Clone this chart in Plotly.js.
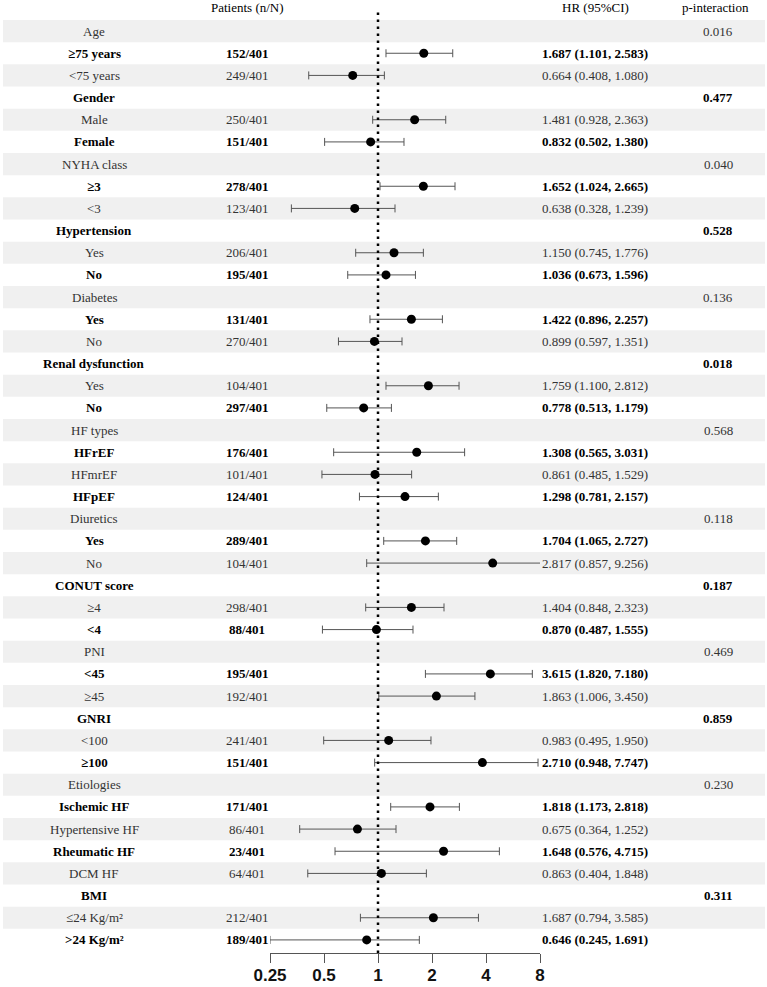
<!DOCTYPE html>
<html>
<head>
<meta charset="utf-8">
<script src="https://cdn.plot.ly/plotly-3.0.1.min.js"></script>
<style>html,body{margin:0;padding:0;background:#fff;}#chart{width:767px;height:987px;}</style>
</head>
<body>
<div id="chart"></div>
<script>
// ---------- data ----------
const rowLabels = ['Age','≥75 years','<75 years','Gender','Male','Female','NYHA class','≥3','<3',
  'Hypertension','Yes','No','Diabetes','Yes','No','Renal dysfunction','Yes','No',
  'HF types','HFrEF','HFmrEF','HFpEF','Diuretics','Yes','No','CONUT score','≥4','<4',
  'PNI','<45','≥45','GNRI','<100','≥100','Etiologies','Ischemic HF','Hypertensive HF',
  'Rheumatic HF','DCM HF','BMI','≤24 Kg/m²','>24 Kg/m²'];
const patients = ['','152/401','249/401','','250/401','151/401','','278/401','123/401',
  '','206/401','195/401','','131/401','270/401','','104/401','297/401',
  '','176/401','101/401','124/401','','289/401','104/401','','298/401','88/401',
  '','195/401','192/401','','241/401','151/401','','171/401','86/401',
  '23/401','64/401','','212/401','189/401'];
const hrText = ['','1.687 (1.101, 2.583)','0.664 (0.408, 1.080)','','1.481 (0.928, 2.363)','0.832 (0.502, 1.380)',
  '','1.652 (1.024, 2.665)','0.638 (0.328, 1.239)','','1.150 (0.745, 1.776)','1.036 (0.673, 1.596)',
  '','1.422 (0.896, 2.257)','0.899 (0.597, 1.351)','','1.759 (1.100, 2.812)','0.778 (0.513, 1.179)',
  '','1.308 (0.565, 3.031)','0.861 (0.485, 1.529)','1.298 (0.781, 2.157)','','1.704 (1.065, 2.727)',
  '2.817 (0.857, 9.256)','','1.404 (0.848, 2.323)','0.870 (0.487, 1.555)','','3.615 (1.820, 7.180)',
  '1.863 (1.006, 3.450)','','0.983 (0.495, 1.950)','2.710 (0.948, 7.747)','','1.818 (1.173, 2.818)',
  '0.675 (0.364, 1.252)','1.648 (0.576, 4.715)','0.863 (0.404, 1.848)','','1.687 (0.794, 3.585)',
  '0.646 (0.245, 1.691)'];
const pInteraction = ['0.016','','','0.477','','','0.040','','','0.528','','','0.136','','',
  '0.018','','','0.568','','','','0.118','','','0.187','','','0.469','','','0.859','','',
  '0.230','','','','','0.311','',''];
// plotted estimates (read from the drawn marks)
const hrPoint = [null,1.80,0.723,null,1.60,0.91,null,1.79,0.742,null,1.228,1.108,null,1.535,0.955,
  null,1.91,0.832,null,1.644,0.962,1.414,null,1.838,4.36,null,1.535,0.98,null,4.23,2.116,
  null,1.147,3.82,null,1.949,0.768,2.32,1.045,null,2.036,0.865];
const ciLow = [null,1.108,0.411,null,0.934,0.504,null,1.026,0.329,null,0.751,0.678,null,0.902,0.602,
  null,1.108,0.518,null,0.566,0.487,0.788,null,1.076,0.865,null,0.854,0.49,null,1.838,1.01,
  null,0.498,0.958,null,1.177,0.366,0.576,0.406,null,0.798,0.25];
const ciHigh = [null,2.61,1.085,null,2.385,1.396,null,2.687,1.244,null,1.79,1.617,null,2.286,1.361,
  null,2.83,1.188,null,3.04,1.54,2.17,null,2.746,9.3,null,2.333,1.567,null,7.25,3.47,
  null,1.974,7.8,null,2.843,1.26,4.75,1.861,null,3.63,1.70];
const tickVals = [0.25,0.5,1,2,4,8];
const tickText = ['0.25','0.5','1','2','4','8'];

// ---------- layout helpers ----------
const W = 767, H = 987;
const L = 270, R = 540, T = 20, B = 953;
const px = p => (p - L) / (R - L);
const py = p => (B - p) / (B - T);
const esc = s => s.replace(/</g,'&lt;').replace(/>/g,'&gt;');
const nRows = rowLabels.length;
const serif = 'Liberation Serif';

const idx = rowLabels.map((_, i) => i);
const errPlus = hrPoint.map((v, i) => v == null ? null : ciHigh[i] - v);
const errMinus = hrPoint.map((v, i) => v == null ? null : v - ciLow[i]);

const trace = {
  type: 'scatter', mode: 'markers',
  x: hrPoint, y: idx,
  marker: {color: '#000', size: 9},
  error_x: {type: 'data', symmetric: false, array: errPlus, arrayminus: errMinus,
    color: '#555', thickness: 1, width: 4},
  hoverinfo: 'skip', showlegend: false
};

const shapes = [];
for (let i = 0; i < nRows; i += 2) {
  shapes.push({type: 'rect', layer: 'below', xref: 'paper', yref: 'y',
    x0: px(3), x1: px(765), y0: i - 0.5, y1: i + 0.5,
    fillcolor: '#f0f0f0', line: {width: 0}});
}
const lo = Math.log10(0.25), hi = Math.log10(8);
const refX = (Math.log10(1) - lo) / (hi - lo);
shapes.push({type: 'line', xref: 'paper', yref: 'paper', x0: refX, x1: refX,
  y0: 0, y1: py(12), line: {color: '#000', width: 2.5, dash: '2.5px,4.5px'}});

const annotations = [];
function addText(text, xpix, row, bold) {
  if (!text) return;
  annotations.push({text: esc(text), xref: 'paper', yref: 'y', x: px(xpix), y: row,
    xanchor: 'center', yanchor: 'middle', showarrow: false,
    font: {family: serif, size: 13, color: bold ? '#000' : '#333', weight: bold ? 'bold' : 'normal'}});
}
for (let i = 0; i < nRows; i++) {
  const bold = i % 2 === 1;
  addText(rowLabels[i], 94, i, bold);
  addText(patients[i], 247, i, bold);
  addText(hrText[i], 595, i, bold);
  addText(pInteraction[i], 718, i, bold);
}
[['Patients (n/N)', 247], ['HR (95%CI)', 595], ['p-interaction', 715]].forEach(([t, x]) => {
  annotations.push({text: t, xref: 'paper', yref: 'paper', x: px(x), y: py(8),
    xanchor: 'center', yanchor: 'middle', showarrow: false,
    font: {family: serif, size: 13, color: '#000'}});
});

const layout = {
  width: W, height: H,
  margin: {l: L, r: W - R, t: T, b: H - B, pad: 0},
  paper_bgcolor: '#fff', plot_bgcolor: 'rgba(0,0,0,0)',
  xaxis: {type: 'log', range: [lo, hi], tickvals: tickVals, ticktext: tickText,
    showgrid: false, zeroline: false, showline: true, linecolor: '#555', linewidth: 1,
    ticks: 'outside', ticklen: 9, tickcolor: '#555', tickwidth: 1, ticklabelstandoff: -2,
    tickfont: {family: 'Liberation Sans', size: 17, color: '#111', weight: 'bold'},
    fixedrange: true},
  yaxis: {range: [nRows - 1 + 0.5 + 0.09, -0.5], visible: false, showgrid: false,
    zeroline: false, fixedrange: true},
  shapes: shapes,
  annotations: annotations,
  showlegend: false
};

Plotly.newPlot('chart', [trace], layout, {displayModeBar: false, staticPlot: true});
</script>
</body>
</html>
